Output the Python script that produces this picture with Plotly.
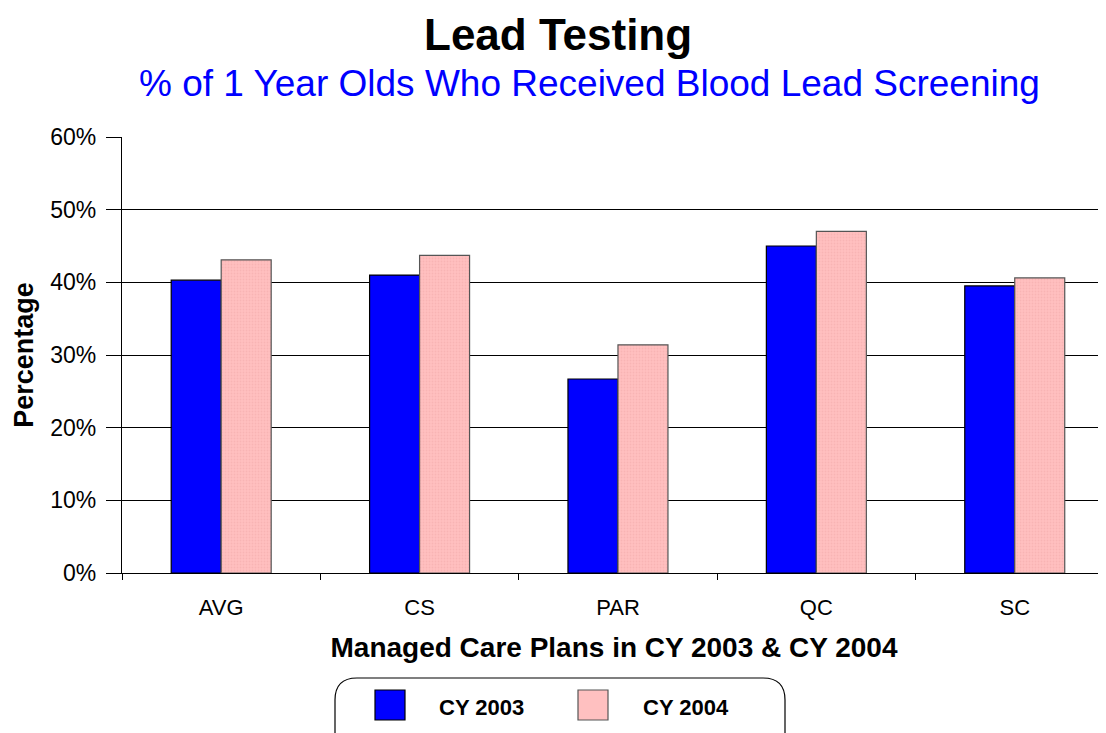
import plotly.graph_objects as go

categories = ["AVG", "CS", "PAR", "QC", "SC"]
series_names = ["CY 2003", "CY 2004"]
cy2003 = [40.3, 41.0, 26.7, 45.0, 39.5]
cy2004 = [43.1, 43.7, 31.4, 47.0, 40.6]
y_ticks = [0, 10, 20, 30, 40, 50, 60]
y_tick_labels = [f"{v}%" for v in y_ticks]

FONT = "Liberation Sans, Arial, sans-serif"
BLUE = "#0000FF"
PINK = "#FFC0C0"

# the page body adds an 8px margin, so work in reference pixels minus 8
OFF = 8
W, H = 1106 - OFF, 733 - OFF

fig = go.Figure()
fig.add_bar(x=categories, y=cy2003, name=series_names[0],
            marker=dict(color=BLUE, line=dict(color="black", width=1.2)),
            showlegend=False)
fig.add_bar(x=categories, y=cy2004, name=series_names[1],
            marker=dict(color=PINK, line=dict(color="#555555", width=1.2),
                        pattern=dict(shape=".", size=3, solidity=0.3,
                                     fgcolor="#F2A8A8", bgcolor=PINK)),
            showlegend=False)

# plot-area pixel geometry (reference pixel coordinates)
L, R, T, B = 122, 1106, 137, 573
def px(x):
    return (x - L) / (R - L)
def py(y):
    return (B - y) / (B - T)

shapes = []
x0, x1, y0, y1, r = 335, 785, 678, 745, 22
path = (f"M {px(x0+r)},{py(y0)} L {px(x1-r)},{py(y0)} "
        f"Q {px(x1)},{py(y0)} {px(x1)},{py(y0+r)} "
        f"L {px(x1)},{py(y1)} L {px(x0)},{py(y1)} L {px(x0)},{py(y0+r)} "
        f"Q {px(x0)},{py(y0)} {px(x0+r)},{py(y0)} Z")
shapes.append(dict(type="path", xref="paper", yref="paper", path=path,
                   line=dict(color="black", width=1.2), fillcolor="white", layer="above"))
swatches = [(375, BLUE, "black"), (578, PINK, "#555555")]
for sx, col, lc in swatches:
    shapes.append(dict(type="rect", xref="paper", yref="paper",
                       x0=px(sx), x1=px(sx + 30), y0=py(690), y1=py(720),
                       fillcolor=col, line=dict(color=lc, width=1.2), layer="above"))

annotations = [
    dict(text="Lead Testing", xref="paper", yref="paper", x=px(558), y=py(35),
         showarrow=False, font=dict(family=FONT, size=44, color="black", weight="bold"),
         xanchor="center", yanchor="middle"),
    dict(text="% of 1 Year Olds Who Received Blood Lead Screening", xref="paper", yref="paper",
         x=px(589), y=py(84), showarrow=False,
         font=dict(family=FONT, size=37, color=BLUE), xanchor="center", yanchor="middle"),
]
for tx, name in zip([481, 686], series_names):
    annotations.append(dict(text=name, xref="paper", yref="paper", x=px(tx), y=py(707),
                            showarrow=False, xanchor="center", yanchor="middle",
                            font=dict(family=FONT, size=22, color="black", weight="bold")))

fig.update_layout(
    width=W, height=H,
    margin=dict(l=L - OFF, r=1106 - R, t=T - OFF, b=733 - B, pad=0),
    paper_bgcolor="white", plot_bgcolor="white",
    barmode="group", bargap=0.496, bargroupgap=0,
    shapes=shapes, annotations=annotations,
    showlegend=False,
    font=dict(family=FONT, color="black"),
)
fig.update_xaxes(
    range=[-0.5, 4.46], showline=True, linecolor="black", linewidth=1.2,
    ticks="outside", tickson="boundaries", ticklen=6, tickcolor="black",
    ticklabelstandoff=14,
    tickfont=dict(family=FONT, size=22), showgrid=False,
    title=dict(text="Managed Care Plans in CY 2003 & CY 2004",
               font=dict(family=FONT, size=28, weight="bold"), standoff=18),
)
fig.update_yaxes(
    range=[0, 60], tickvals=y_ticks, ticktext=y_tick_labels,
    showline=True, linecolor="black", linewidth=1.2,
    ticks="outside", ticklen=15, tickcolor="black",
    ticklabelstandoff=5,
    showgrid=True, gridcolor="black", gridwidth=1.2,
    tickfont=dict(family=FONT, size=23),
    title=dict(text="Percentage", font=dict(family=FONT, size=27, weight="bold"), standoff=8),
)

fig.write_html("out.html")
